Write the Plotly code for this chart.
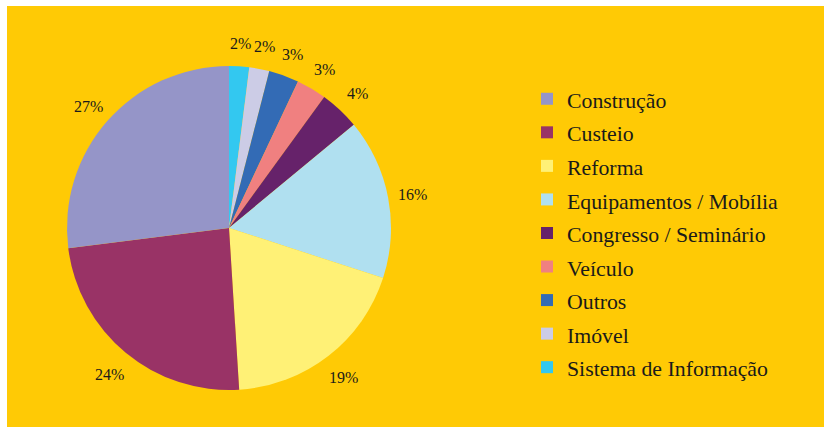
import math
import plotly.graph_objects as go

# Data (legend order)
categories = ["Construção", "Custeio", "Reforma", "Equipamentos / Mobília",
              "Congresso / Seminário", "Veículo", "Outros", "Imóvel",
              "Sistema de Informação"]
values = [27, 24, 19, 16, 4, 3, 3, 2, 2]
colors = ["#9595C8", "#993366", "#FFF176", "#B0E0F0", "#66226A",
          "#F08080", "#336BB5", "#CCCCE6", "#33C8F0"]

W, H = 824, 427
FONT = "Liberation Serif"

# pie geometry (pixels)
CX, CY, R = 229, 228, 162
LABEL_R = 187

legend_labels = ['<span style="font-size:21.8px">%s</span>' % c for c in categories]

# Slices run clockwise from 12 o'clock starting with the last category,
# so feed reversed lists and reverse the legend back.
vals_cw = values[::-1]
fig = go.Figure()
fig.add_trace(go.Pie(
    labels=legend_labels[::-1],
    values=vals_cw,
    sort=False,
    direction="clockwise",
    rotation=0,
    marker=dict(colors=colors[::-1], line=dict(width=0)),
    textinfo="none",
    domain=dict(x=[(CX - R) / W, (CX + R) / W], y=[1 - (CY + R) / H, 1 - (CY - R) / H]),
    hoverinfo="label+percent",
))

# percentage labels placed radially outside each slice
total = sum(vals_cw)
annotations = []
cum = 0
for v in vals_cw:
    theta = 2 * math.pi * (cum + v / 2) / total
    cum += v
    px = CX + LABEL_R * math.sin(theta)
    py = CY - LABEL_R * math.cos(theta)
    annotations.append(dict(
        x=px / W, y=1 - py / H, xref="paper", yref="paper",
        text="%d%%" % round(100 * v / total), showarrow=False,
        xanchor="center", yanchor="middle", yshift=-2,
        font=dict(family=FONT, size=16, color="#1a1a1a"),
    ))

fig.update_layout(
    width=W, height=H,
    margin=dict(l=0, r=0, t=0, b=0),
    paper_bgcolor="white",
    plot_bgcolor="white",
    showlegend=True,
    legend=dict(
        x=527 / W, xanchor="left",
        y=1 - 77 / H, yanchor="top",
        font=dict(family=FONT, size=23.5, color="#1a1a1a"),
        bgcolor="rgba(0,0,0,0)",
        traceorder="reversed",
    ),
    annotations=annotations,
    shapes=[dict(type="rect", xref="paper", yref="paper",
                 x0=7 / W, x1=1, y0=0, y1=1 - 6 / H,
                 fillcolor="#FFCA05", line=dict(width=0), layer="below")],
)

fig.write_html("out.html", config={"displayModeBar": False},
               post_script="document.body.style.margin='0';")
